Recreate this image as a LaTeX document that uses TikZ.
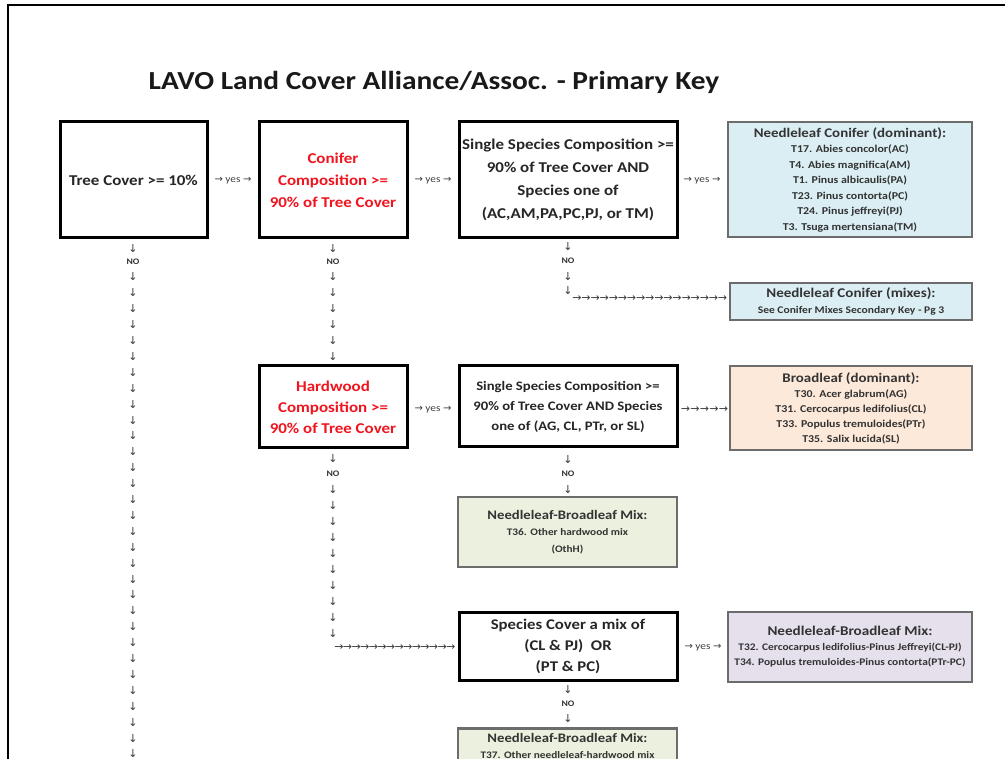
\documentclass[tikz,border=0pt]{standalone}
\usepackage{fontspec}
\setmainfont{Carlito}[FakeStretch=1.13]
\newfontfamily\arrfont{DejaVu Sans}
\usetikzlibrary{calc}

\definecolor{condomfill}{HTML}{DAEEF3}
\definecolor{broadfill}{HTML}{FDE9D9}
\definecolor{mixfill}{HTML}{EBF1DE}
\definecolor{nbfill}{HTML}{E5E0EC}
\definecolor{keyred}{HTML}{F0141E}
\definecolor{glyphgray}{HTML}{3A3A3A}

\newcommand\darr{{\arrfont ↓}}
\newcommand\rarr{{\arrfont →}}

\tikzset{
	keybox/.style={draw=black,line width=3pt,fill=white,align=center,inner sep=0pt,text=black!85},
	leafbox/.style={draw=gray!85!black,line width=2.5pt,align=center,inner sep=0pt,text=black!80,
		font=\bfseries\fontsize{10.5}{15.5}\selectfont},
	glyph/.style={inner sep=0pt,text=glyphgray,font=\fontsize{11}{11}\selectfont},
	nolbl/.style={inner sep=0pt,text=black!80,font=\bfseries\fontsize{8.5}{8.5}\selectfont},
	yeslbl/.style={inner sep=0pt,text=black!75,font=\fontsize{10}{10}\selectfont},
}

\begin{document}
\begin{tikzpicture}[x=1pt,y=-1pt]
		\useasboundingbox (0,0) rectangle (1005,759);
		\clip (0,0) rectangle (1005,759);
		\fill[white] (0,0) rectangle (1005,759);
		\draw[line width=2.5pt] (8,770) -- (8,5) -- (1010,5);
		\node[font=\bfseries\fontsize{26}{30}\selectfont,text=black!90] (title) at (434,82) {LAVO Land Cover Alliance/Assoc. - Primary Key};

		% first row
		\node[keybox,minimum width=147,minimum height=116,font=\bfseries\fontsize{15}{22}\selectfont] (tree) at (133.5,180) {Tree Cover >= 10\%};
		\node[keybox,minimum width=148,minimum height=116,text=keyred,font=\bfseries\fontsize{15}{22}\selectfont] (conif) at (333,180) {Conifer\\Composition >=\\90\% of Tree Cover};
		\node[keybox,minimum width=218,minimum height=116,font=\bfseries\fontsize{15}{23}\selectfont] (ssone) at (568,180) {Single Species Composition >=\\90\% of Tree Cover AND\\Species one of\\(AC,AM,PA,PC,PJ, or TM)};
		\node[leafbox,fill=condomfill,minimum width=244,minimum height=115] (condom) at (850,179.5) {{\fontsize{13.2}{15.5}\selectfont Needleleaf Conifer (dominant):}\\T17. Abies concolor(AC)\\T4. Abies magnifica(AM)\\T1. Pinus albicaulis(PA)\\T23. Pinus contorta(PC)\\T24. Pinus jeffreyi(PJ)\\T3. Tsuga mertensiana(TM)};
		\node[yeslbl] (yone) at (233,181) {\rarr{} yes \rarr};
		\node[yeslbl] (ytwo) at (433,181) {\rarr{} yes \rarr};
		\node[yeslbl] (ythree) at (702,181) {\rarr{} yes \rarr};

		% NO labels under the first row
		\node[glyph] (dtree) at (133,249) {\darr};
		\node[nolbl] (notree) at (133,262) {NO};
		\node[glyph] (dconif) at (333,249) {\darr};
		\node[nolbl] (noconif) at (333,262) {NO};
		\node[glyph] (dssone) at (568,247) {\darr};
		\node[nolbl] (nossone) at (568,261) {NO};

		\node[leafbox,fill=condomfill,minimum width=242,minimum height=37,font=\bfseries\fontsize{10.2}{16}\selectfont] (conmix) at (851,301.5) {{\fontsize{13.3}{16}\selectfont Needleleaf Conifer (mixes):}\\See Conifer Mixes Secondary Key - Pg 3};

		% second row
		\node[keybox,minimum width=148,minimum height=82,text=keyred,font=\bfseries\fontsize{15}{21}\selectfont] (hard) at (333,407) {Hardwood\\Composition >=\\90\% of Tree Cover};
		\node[keybox,minimum width=218,minimum height=81,font=\bfseries\fontsize{13}{20}\selectfont] (sstwo) at (568,406.5) {Single Species Composition >=\\90\% of Tree Cover AND Species\\one of (AG, CL, PTr, or SL)};
		\node[leafbox,fill=broadfill,minimum width=242,minimum height=84,font=\bfseries\fontsize{10.5}{15}\selectfont] (broad) at (851,408) {{\fontsize{13.2}{15}\selectfont Broadleaf (dominant):}\\T30. Acer glabrum(AG)\\T31. Cercocarpus ledifolius(CL)\\T33. Populus tremuloides(PTr)\\T35. Salix lucida(SL)};
		\node[yeslbl] (yfour) at (433,410) {\rarr{} yes \rarr};
		\node[glyph] (dhard) at (333,459) {\darr};
		\node[nolbl] (nohard) at (333,474) {NO};
		\node[glyph] (dsstwo) at (568,460) {\darr};
		\node[nolbl] (nosstwo) at (568,474) {NO};
		\node[glyph] (dsstwob) at ($(nosstwo)+(0,16)$) {\darr};

		\node[leafbox,fill=mixfill,minimum width=219,minimum height=70,font=\bfseries\fontsize{10}{16.5}\selectfont] (mixone) at (567.5,532) {{\fontsize{13}{16.5}\selectfont Needleleaf-Broadleaf Mix:}\\T36. Other hardwood mix\\(OthH)};

		% third row
		\node[keybox,minimum width=218,minimum height=68,font=\bfseries\fontsize{14.8}{21}\selectfont] (spmix) at (568,646) {Species Cover a mix of\\(CL \& PJ)~~OR\\(PT \& PC)};
		\node[leafbox,fill=nbfill,minimum width=244,minimum height=70,font=\bfseries\fontsize{10.1}{15}\selectfont] (nbmix) at (850,647) {{\fontsize{13.4}{15}\selectfont Needleleaf-Broadleaf Mix:}\\T32. Cercocarpus ledifolius-Pinus Jeffreyi(CL-PJ)\\T34. Populus tremuloides-Pinus contorta(PTr-PC)};
		\node[yeslbl] (yfive) at (703,648) {\rarr{} yes \rarr};
		\node[glyph] (dspmix) at (568,690) {\darr};
		\node[nolbl] (nospmix) at (568,704) {NO};
		\node[glyph] (dspmixb) at ($(nospmix)+(0,15)$) {\darr};
		\node[leafbox,fill=mixfill,minimum width=219,anchor=north,inner ysep=5pt,font=\bfseries\fontsize{10}{16}\selectfont] (mixtwo) at (567.5,727) {{\fontsize{13}{16}\selectfont Needleleaf-Broadleaf Mix:}\\T37. Other needleleaf-hardwood mix};

		% arrow chains
		\foreach \k in {0,...,30}
			\node[glyph] (dl\k) at ($(notree)+(0,15+15.9*\k)$) {\darr};
		\foreach \k in {0,...,5}
			\node[glyph] (dc\k) at ($(noconif)+(0,15+16*\k)$) {\darr};
		\node[glyph] (ds1) at ($(nossone)+(0,16)$) {\darr};
		\node[glyph] (ds2) at ($(nossone)+(0,30)$) {\darr};
		\foreach \k in {0,...,16}
			\node[glyph] (rs\k) at ($(nossone)+(9+9.1*\k,38)$) {\rarr};
		\foreach \k in {0,...,4}
			\node[glyph] (rb\k) at ($(sstwo.east)+(7+9.5*\k,3)$) {\rarr};
		\foreach \k in {0,...,9}
			\node[glyph] (dh\k) at ($(nohard)+(0,16+16*\k)$) {\darr};
		\foreach \k in {0,...,13}
			\node[glyph] (rh\k) at ($(nohard)+(6+8.6*\k,174)$) {\rarr};
\end{tikzpicture}
\end{document}
